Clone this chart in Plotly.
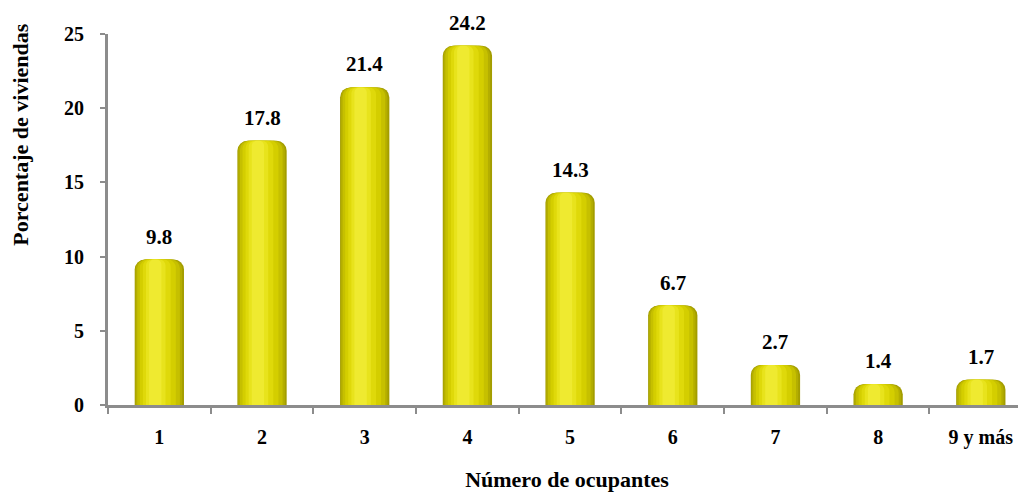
import plotly.graph_objects as go

categories = ["1", "2", "3", "4", "5", "6", "7", "8", "9 y más"]
values = [9.8, 17.8, 21.4, 24.2, 14.3, 6.7, 2.7, 1.4, 1.7]
value_labels = ["9.8", "17.8", "21.4", "24.2", "14.3", "6.7", "2.7", "1.4", "1.7"]
y_ticks = [0, 5, 10, 15, 20, 25]

FONT = "Liberation Serif"

# horizontal shading stripes (left, right, colour, corner radius) to imitate a cylinder
stripes = [
    (-0.240, 0.240, "#a39d00", 10),
    (-0.232, 0.222, "#b4ae00", 10),
    (-0.215, 0.200, "#c6c000", 9),
    (-0.190, 0.160, "#d4ce00", 8),
    (-0.160, 0.110, "#dfd90a", 7),
    (-0.130, 0.060, "#e8e31c", 6),
    (-0.100, 0.020, "#efea30", 5),
]

fig = go.Figure()
for left, right, color, rad in stripes:
    fig.add_trace(go.Bar(
        x=categories, y=values,
        width=right - left, offset=left,
        marker=dict(color=color, line=dict(width=0), cornerradius=rad),
        hoverinfo="skip", showlegend=False,
    ))

for i, (v, t) in enumerate(zip(values, value_labels)):
    fig.add_annotation(x=i, y=v, text=t, showarrow=False, yanchor="bottom",
                       yshift=9, font=dict(family=FONT, size=21, color="black", weight="bold"))

fig.add_annotation(xref="paper", yref="paper", x=-0.095, y=0.728, text="Porcentaje de viviendas",
                   textangle=-90, showarrow=False, xanchor="center", yanchor="middle",
                   font=dict(family=FONT, size=22, color="black", weight="bold"))

fig.update_layout(
    width=1018, height=486,
    margin=dict(l=100, r=0, t=26, b=89),
    paper_bgcolor="white", plot_bgcolor="white",
    barmode="overlay",
    font=dict(family=FONT, size=20, color="black"),
    xaxis=dict(
        type="category",
        range=[-0.5, 8.44],
        showline=True, linecolor="#8c8c8c", linewidth=3,
        ticks="outside", tickson="boundaries", ticklen=6, tickwidth=2, tickcolor="#8c8c8c",
        ticklabelstandoff=12,
        tickfont=dict(family=FONT, size=20, color="black", weight="bold"),
        showgrid=False, zeroline=False,
        title=dict(text="Número de ocupantes", standoff=24,
                   font=dict(family=FONT, size=22, color="black", weight="bold")),
    ),
    yaxis=dict(
        range=[0, 25], tickvals=y_ticks,
        showline=True, linecolor="#8c8c8c", linewidth=3,
        ticks="outside", ticklen=5, tickwidth=2, tickcolor="#8c8c8c",
        ticklabelstandoff=12,
        tickfont=dict(family=FONT, size=20, color="black", weight="bold"),
        showgrid=False, zeroline=False,
    ),
)

fig.write_html("out.html")
